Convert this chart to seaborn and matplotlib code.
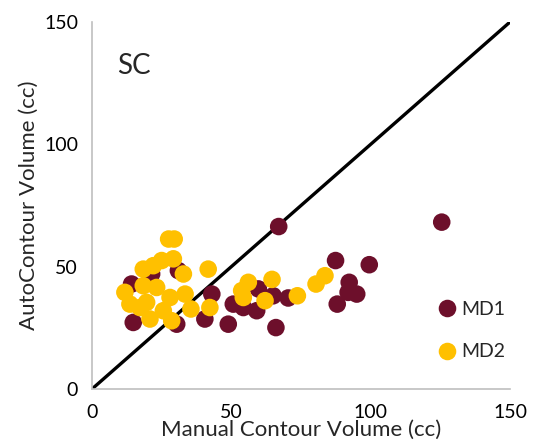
import matplotlib
matplotlib.use("Agg")
import matplotlib.pyplot as plt
import seaborn as sns
import pandas as pd

# Data
md1_manual = [67, 125.5, 87.4, 99.5, 92.3, 95, 91.9, 88, 70.4, 65, 59.7, 59.1, 66,
              54.3, 50.7, 48.9, 43, 40.5, 31, 21.4, 14.2, 14.8, 30.4]
md1_auto = [66.4, 68.2, 52.5, 50.8, 43.6, 38.8, 39.5, 34.7, 37.2, 38.1, 40.9, 32, 25.1,
            33.3, 34.7, 26.5, 38.8, 28.6, 48.4, 47, 42.9, 27.2, 26.5]
md2_manual = [27.5, 29.5, 29.2, 25, 22, 18.4, 32.8, 11.8, 18.4, 23.2, 13.6, 19.6, 28,
              33.4, 35.5, 25.6, 20.8, 28.6, 41.7, 42.3, 53.7, 56.1, 62.1, 64.6, 73.7,
              80.4, 83.6, 54.3, 17.2]
md2_auto = [61.3, 61.3, 53.2, 52.5, 50.4, 49, 47, 39.5, 42.2, 41.5, 34.7, 35.4, 37.4,
            38.8, 32.7, 32, 28.6, 27.9, 49, 33.3, 40.2, 43.6, 36.1, 44.8, 38.1,
            42.9, 46.3, 37.4, 33.3]
series_names = ["MD1", "MD2"]
identity = [0, 150]
ticks = [0, 50, 100, 150]

df = pd.DataFrame({
    "manual": md1_manual + md2_manual,
    "auto": md1_auto + md2_auto,
    "reader": [series_names[0]] * len(md1_manual) + [series_names[1]] * len(md2_manual),
})

sns.set_theme(style="white")
plt.rcParams["font.family"] = ["Lato", "DejaVu Sans"]

fig = plt.figure(figsize=(5.38, 4.43), dpi=100)
ax = fig.add_axes([92 / 538, 1 - 389 / 443, (510 - 92) / 538, (389 - 22) / 443])

sns.lineplot(x=identity, y=identity, color="black", linewidth=2.4, ax=ax, zorder=1)
sns.scatterplot(data=df, x="manual", y="auto", hue="reader",
                palette={"MD1": "#6d0f2b", "MD2": "#ffc000"},
                s=160, linewidth=0, alpha=1, ax=ax, zorder=2)

ax.set_xlim(0, 150)
ax.set_ylim(0, 150)
ax.set_xticks(ticks)
ax.set_yticks(ticks)
ax.tick_params(axis="x", labelsize=14, length=0, pad=11, colors="black")
ax.tick_params(axis="y", labelsize=14, length=0, pad=10, colors="black")
ax.set_xlabel("Manual Contour Volume (cc)", fontsize=16)
ax.set_ylabel("AutoContour Volume (cc)", fontsize=16)
ax.xaxis.set_label_coords(0.5, -0.085)
ax.yaxis.set_label_coords(-0.128, 0.5)

for side in ["top", "right"]:
    ax.spines[side].set_visible(False)
for side in ["left", "bottom"]:
    ax.spines[side].set_color("#bfbfbf")
    ax.spines[side].set_linewidth(1.2)

ax.text(0.06, 0.88, "SC", transform=ax.transAxes, fontsize=20, ha="left", va="center")

leg = ax.legend(loc="lower right", bbox_to_anchor=(1.03, 0.03), frameon=False,
                fontsize=14, markerscale=1.0, handletextpad=0.0, handlelength=1.4,
                labelspacing=1.3, title=None)

fig.savefig("out.png", dpi=100)
